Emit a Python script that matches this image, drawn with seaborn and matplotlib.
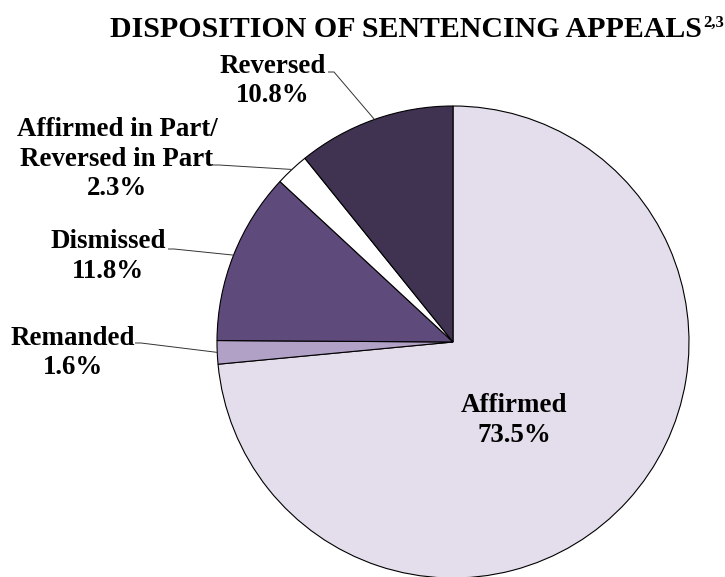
import numpy as np
import matplotlib
matplotlib.use("Agg")
import matplotlib.pyplot as plt
import seaborn as sns

# ─── Data ─────────────────────────────────────────────────────────────────────
CATEGORIES = ["Affirmed", "Remanded", "Dismissed",
              "Affirmed in Part/\nReversed in Part", "Reversed"]
SHARES     = [73.5, 1.6, 11.8, 2.3, 10.8]
COLORS     = ["#E4DEEC", "#B2A1C7", "#5F4A7C", "#FFFFFF", "#403352"]

TITLE = "DISPOSITION OF SENTENCING APPEALS"
TITLE_SUP = "2,3"

# ─── Style ────────────────────────────────────────────────────────────────────
sns.set_style("white")
plt.rcParams['font.family'] = ['Liberation Serif', 'DejaVu Serif']

W, H = 725, 577
fig = plt.figure(figsize=(W / 100, H / 100), dpi=100)
ax = fig.add_axes([0, 0, 1, 1])
ax.set_xlim(0, W)
ax.set_ylim(0, H)
ax.set_aspect('equal')
ax.axis('off')

def py(y):
    # pixel row (from top) -> data y
    return H - y

CX, CY, R = 453, py(342), 236

wedges, _ = ax.pie(SHARES, colors=COLORS, startangle=90, counterclock=False,
                   center=(CX, CY), radius=R,
                   wedgeprops=dict(edgecolor='black', linewidth=0.8))
ax.set_xlim(0, W)
ax.set_ylim(0, H)

# ─── Labels ───────────────────────────────────────────────────────────────────
# (center x, first baseline, line start x, line start y) in pixels
LABEL_POS = {
    "Affirmed":  (514, 412, None, None),
    "Remanded":  (73, 345, 135, 343),
    "Dismissed": (108, 248, 168, 249),
    "Affirmed in Part/\nReversed in Part": (117, 136, 213, 165),
    "Reversed":  (273, 73, 328, 72),
}
LINE_GAP = 29.5
FS = 19.4

for wedge, name, share in zip(wedges, CATEGORIES, SHARES):
    cx, y0, lx, ly = LABEL_POS[name]
    lines = name.split("\n") + [f"{share:.1f}%"]
    for i, line in enumerate(lines):
        ax.text(cx, py(y0 + i * LINE_GAP), line, ha='center', va='baseline',
                fontsize=FS, fontweight='bold', color='black')
    if lx is not None:
        mid = np.deg2rad((wedge.theta1 + wedge.theta2) / 2)
        ex, ey = CX + R * np.cos(mid), CY + R * np.sin(mid)
        ax.plot([lx, lx + 6, ex], [py(ly), py(ly), ey],
                color='#333333', linewidth=0.7, solid_capstyle='butt')

# ─── Title ────────────────────────────────────────────────────────────────────
ax.text(702, py(37), TITLE, ha='right', va='baseline',
        fontsize=21.5, fontweight='bold', color='black')
ax.text(703, py(27), TITLE_SUP, ha='left', va='baseline',
        fontsize=12, fontweight='bold', color='black')

plt.savefig('out.png', dpi=100)
plt.close()
